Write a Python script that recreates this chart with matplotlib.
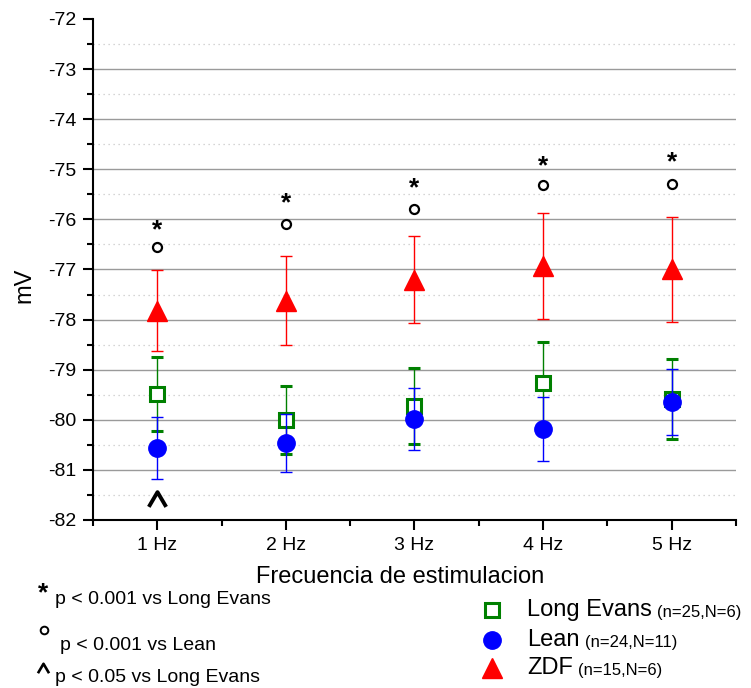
import numpy as np
import matplotlib
matplotlib.use("Agg")
import matplotlib.pyplot as plt
from matplotlib.lines import Line2D
from matplotlib.markers import MarkerStyle
from matplotlib.path import Path

plt.rcParams["font.family"] = ["Liberation Sans", "DejaVu Sans"]
plt.rcParams["axes.unicode_minus"] = False

# data (mV, mean +/- SE)
freq_labels = ["1 Hz", "2 Hz", "3 Hz", "4 Hz", "5 Hz"]
le_mean = [-79.48, -80.00, -79.72, -79.27, -79.58]
le_err = [0.74, 0.68, 0.76, 0.83, 0.80]
lean_mean = [-80.56, -80.46, -79.99, -80.18, -79.64]
lean_err = [0.62, 0.58, 0.62, 0.64, 0.66]
zdf_mean = [-77.82, -77.62, -77.20, -76.93, -77.00]
zdf_err = [0.81, 0.88, 0.86, 1.05, 1.05]

# significance symbols (y in mV)
star_y = [-76.07, -75.55, -75.25, -74.81, -74.73]
circ_y = [-76.55, -76.09, -75.79, -75.31, -75.30]
caret_idx = [0]
caret_y = [-81.58]

groups = ["Long Evans", "Lean", "ZDF"]
group_n = ["(n=25,N=6)", "(n=24,N=11)", "(n=15,N=6)"]
footnotes = ["p < 0.001 vs Long Evans", "p < 0.001 vs Lean", "p < 0.05 vs Long Evans"]

W, H = 751, 688
fig = plt.figure(figsize=(W / 100, H / 100), dpi=100)
ax = fig.add_axes([93 / W, 1 - 520 / H, (736 - 93) / W, (520 - 19) / H])

x = np.arange(1, len(freq_labels) + 1)

# open chevron used for the "^" sign
caret = MarkerStyle(Path([(-1, -0.85), (0, 0.85), (1, -0.85)]), fillstyle="none",
                    joinstyle="miter")

# grid
for v in np.arange(-81, -72):
    ax.axhline(v, color="#9a9a9a", lw=1.0, zorder=0)
for v in np.arange(-81.5, -72, 1.0):
    ax.axhline(v, color="#c8c8c8", lw=0.9, ls=(0, (1, 3)), zorder=0)

green, blue, red = "#008000", "#0000ff", "#ff0000"
ax.errorbar(x, le_mean, yerr=le_err, fmt="s", ms=10, mfc="white", mec=green,
            mew=2.2, ecolor=green, elinewidth=1.0, capsize=4, capthick=1.0,
            zorder=3)
ax.errorbar(x, lean_mean, yerr=lean_err, fmt="o", ms=12.5, mfc=blue, mec=blue,
            ecolor=blue, elinewidth=1.0, capsize=4, capthick=1.0, zorder=4)
ax.errorbar(x, zdf_mean, yerr=zdf_err, fmt="^", ms=14, mfc=red, mec=red,
            ecolor=red, elinewidth=1.0, capsize=4, capthick=1.0, zorder=5)

ax.plot(x, circ_y, "o", ms=6.5, mfc="none", mec="black", mew=1.6, zorder=6)
for xi, yi in zip(x, star_y):
    ax.annotate("*", xy=(xi, yi), xytext=(0, -5), textcoords="offset points",
                fontsize=19, fontweight="bold", ha="center", va="center", zorder=6)
ax.plot(x[caret_idx], caret_y, ls="none", marker=caret, ms=12.5, mec="black",
        mew=2.8, zorder=6)

ax.set_xlim(0.5, 5.5)
ax.set_ylim(-82, -72)
ax.set_xticks(x)
ax.set_xticklabels(freq_labels)
ax.set_xticks(np.arange(0.5, 6.0, 1.0), minor=True)
ax.set_yticks(np.arange(-82, -71))
ax.set_yticks(np.arange(-81.5, -72, 1.0), minor=True)
ax.tick_params(which="both", direction="out", width=1.5, labelsize=14)
ax.tick_params(which="major", length=7, pad=5)
ax.tick_params(which="minor", length=4)
for s in ["top", "right"]:
    ax.spines[s].set_visible(False)
for s in ["left", "bottom"]:
    ax.spines[s].set_linewidth(1.5)

ax.set_ylabel("mV", fontsize=17)
ax.yaxis.set_label_coords(-(93 - 35) / (736 - 93), 0.468)
fig.text(400 / W, 1 - 577 / H, "Frecuencia de estimulacion", fontsize=17,
         ha="center", va="center")

# footnotes
fig.text(43 / W, 1 - 593 / H, "*", fontsize=19, fontweight="bold",
         ha="center", va="center")
fig.add_artist(Line2D([44 / W], [1 - 630 / H], transform=fig.transFigure, ls="none",
                      marker="o", ms=5.5, mfc="none", mec="black", mew=1.4))
fig.add_artist(Line2D([43 / W], [1 - 667.5 / H], transform=fig.transFigure, ls="none",
                      marker=caret, ms=8, mec="black", mew=1.9))
txt_pos = [(55, 600), (60, 645), (55, 677)]
for txt, (tx, ty) in zip(footnotes, txt_pos):
    fig.text(tx / W, 1 - ty / H, txt, fontsize=14, ha="left", va="center")

# legend drawn by hand
styles = [dict(marker="s", ms=10, mfc="white", mec=green, mew=2.2),
          dict(marker="o", ms=12.5, mfc=blue, mec=blue),
          dict(marker="^", ms=14, mfc=red, mec=red)]
rows_y = [610, 640, 668]
for name, n, st, ry in zip(groups, group_n, styles, rows_y):
    fy = 1 - ry / H
    fig.add_artist(Line2D([492 / W], [fy], transform=fig.transFigure, ls="none", **st))
    t = fig.text(527 / W, fy, name, fontsize=17, ha="left", va="center")
    ax.annotate(n, xy=(1, 0), xycoords=t, xytext=(4, 1), textcoords="offset points",
                fontsize=12, ha="left", va="bottom", annotation_clip=False)

fig.savefig("out.png", dpi=100)
